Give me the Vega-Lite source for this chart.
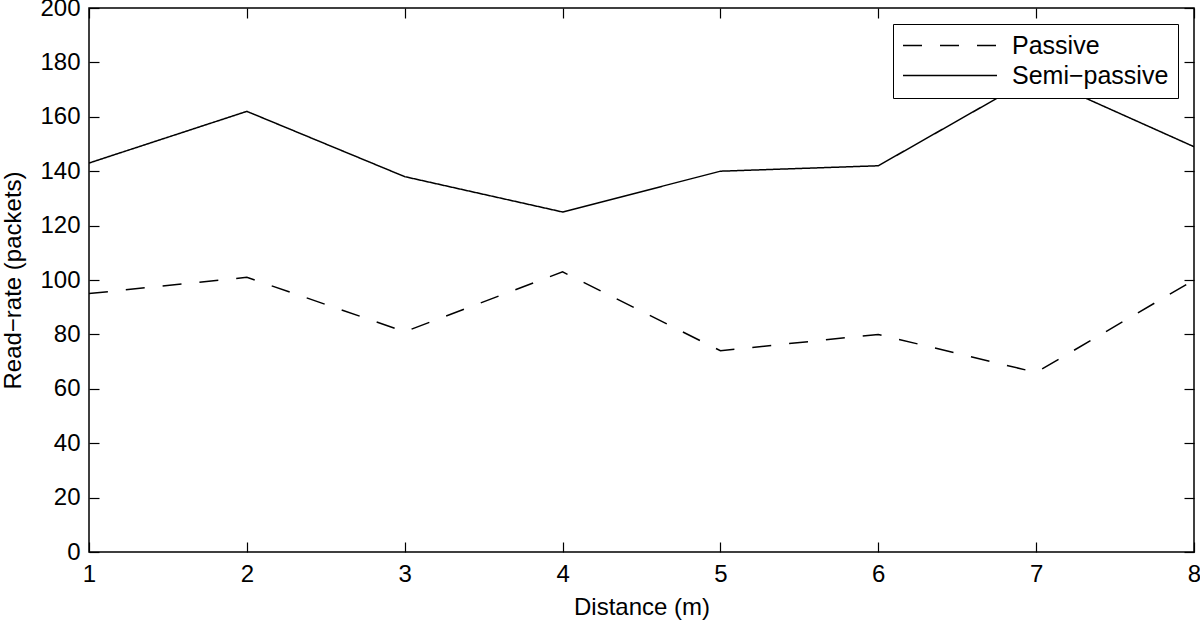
{
  "$schema": "https://vega.github.io/schema/vega-lite/v6.json",
  "width": 1105,
  "height": 544,
  "autosize": "none",
  "padding": {"left": 89, "top": 8, "right": 6, "bottom": 71},
  "background": "white",
  "config": {
    "view": {"stroke": "black", "strokeWidth": 1.5},
    "font": "Liberation Sans",
    "axis": {
      "grid": false,
      "domain": false,
      "tickColor": "black",
      "tickWidth": 1.2,
      "labelColor": "black",
      "labelFont": "Liberation Sans",
      "labelFontSize": 24,
      "labelFlush": false,
      "labelOverlap": false,
      "titleFont": "Liberation Sans",
      "titleFontSize": 24,
      "titleFontWeight": "normal",
      "titleColor": "black"
    }
  },
  "data": {
    "values": [
      {"d": 1, "series": "Passive", "v": 95},
      {"d": 2, "series": "Passive", "v": 101},
      {"d": 3, "series": "Passive", "v": 81},
      {"d": 4, "series": "Passive", "v": 103},
      {"d": 5, "series": "Passive", "v": 74},
      {"d": 6, "series": "Passive", "v": 80},
      {"d": 7, "series": "Passive", "v": 66},
      {"d": 8, "series": "Passive", "v": 100},
      {"d": 1, "series": "Semi−passive", "v": 143},
      {"d": 2, "series": "Semi−passive", "v": 162},
      {"d": 3, "series": "Semi−passive", "v": 138},
      {"d": 4, "series": "Semi−passive", "v": 125},
      {"d": 5, "series": "Semi−passive", "v": 140},
      {"d": 6, "series": "Semi−passive", "v": 142},
      {"d": 7, "series": "Semi−passive", "v": 175},
      {"d": 8, "series": "Semi−passive", "v": 149}
    ]
  },
  "layer": [
    {
      "mark": {"type": "line", "color": "black", "strokeWidth": 1.5, "clip": true},
      "encoding": {
        "x": {"field": "d", "type": "quantitative", "scale": {"domain": [1, 8], "nice": false, "zero": false},
          "axis": {"orient": "bottom", "title": "Distance (m)", "values": [1,2,3,4,5,6,7,8], "tickSize": -10, "labelPadding": 20, "labelFontSize": 24, "titleFontSize": 24, "titlePadding": 9, "labelFlush": false}},
        "y": {"field": "v", "type": "quantitative", "scale": {"domain": [0, 200], "nice": false},
          "axis": {"orient": "left", "title": "Read−rate (packets)", "values": [0,20,40,60,80,100,120,140,160,180,200], "tickSize": -10, "labelPadding": 19, "labelFontSize": 24, "titleFontSize": 24, "titlePadding": 14, "labelFlush": false}},
        "strokeDash": {"field": "series", "type": "nominal",
          "scale": {"domain": ["Passive", "Semi−passive"], "range": [[19, 18], [1, 0]]},
          "legend": {
            "title": null, "orient": "top-right", "offset": 16,
            "symbolType": "stroke", "symbolSize": 8836, "symbolStrokeColor": "black", "symbolStrokeWidth": 1.5,
            "labelFontSize": 25, "labelColor": "black", "labelFont": "Liberation Sans",
            "strokeColor": "black", "fillColor": "white", "padding": 9, "rowPadding": 4, "labelOffset": 14,
            "clipHeight": 25
          }
        }
      }
    },
    {
      "mark": {"type": "line", "opacity": 0},
      "encoding": {
        "x": {"field": "d", "type": "quantitative",
          "axis": {"orient": "top", "title": null, "labels": false, "values": [1,2,3,4,5,6,7,8], "tickSize": -10}},
        "y": {"field": "v", "type": "quantitative",
          "axis": {"orient": "right", "title": null, "labels": false, "values": [0,20,40,60,80,100,120,140,160,180,200], "tickSize": -10}}
      }
    }
  ],
  "resolve": {"axis": {"x": "independent", "y": "independent"}}
}
